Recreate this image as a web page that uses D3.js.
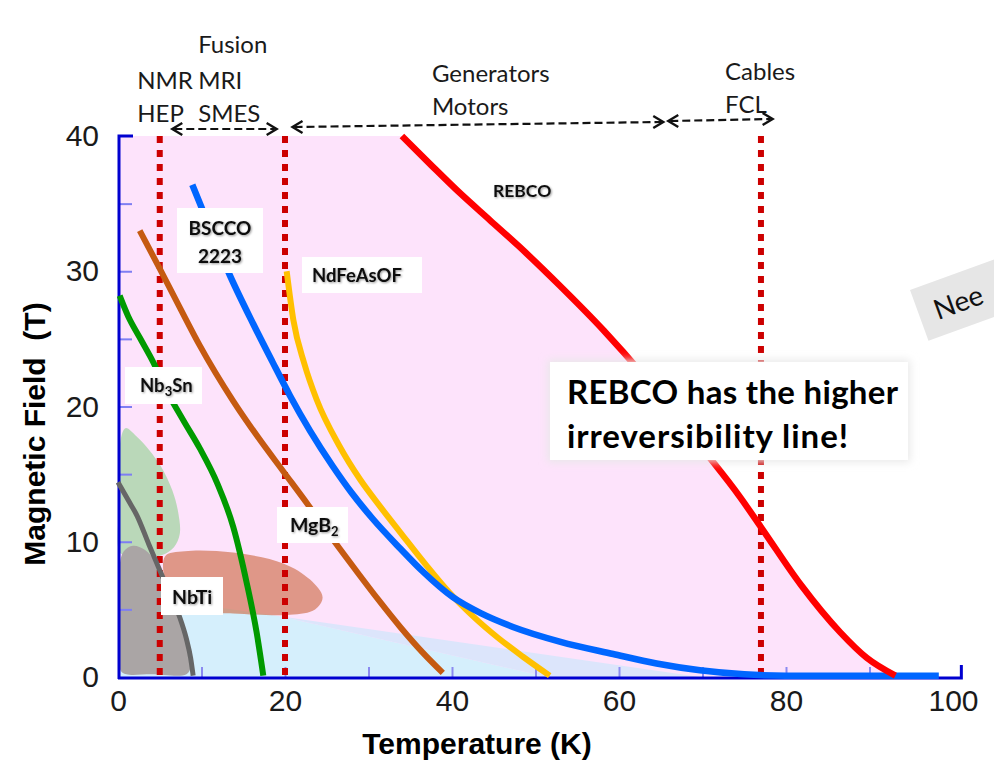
<!DOCTYPE html>
<html>
<head>
<meta charset="utf-8">
<script src="https://cdn.jsdelivr.net/npm/d3@7"></script>
<style>
  html, body { margin: 0; padding: 0; background: #fff; }
  svg { display: block; }
</style>
</head>
<body>
<svg id="chart" width="994" height="765"></svg>
<script>
// ---- Axis ticks ----
const temperatureTicks = [0, 20, 40, 60, 80, 100];
const fieldTicks = [0, 10, 20, 30, 40];
const minorTempTicks = [10, 20, 30, 40, 50, 60, 70, 80, 90];
const minorFieldTicks = [5, 10, 15, 20, 25, 30, 35];

// ---- Operating temperatures (K): liquid He, liquid H2 / cryocooler, liquid N2 ----
const coolingTemps = [5, 20, 77];

// ---- Irreversibility lines: [temperature K, field T] ----
const rebco    = [[34.0,40],[37.5,37.85],[41.0,35.75],[44.5,33.8],[48.0,31.85],[52.8,29.0],[58.2,25.6],[62.8,22.4],[66.5,19.6],[70.1,16.8],[74.5,13.3],[77.2,10.9],[81.8,6.8],[86.5,3.3],[89.7,1.4],[93.1,0.1]];
const bscco    = [[8.9,36.4],[11.2,32.9],[13.4,29.7],[16.2,26.1],[18.5,23.3],[20.6,20.8],[23.0,18.2],[25.7,15.6],[28.0,13.6],[30.5,11.7],[33.8,9.5],[36.5,7.8],[40.1,5.9],[43.5,4.7],[47.3,3.7],[53.0,2.6],[59.3,1.7],[64.5,1.0],[69.7,0.5],[75.0,0.2],[80.0,0.1],[98.3,0.1]];
const ndfeasof = [[20.2,30.0],[21.0,26.4],[22.3,23.2],[23.8,20.5],[26.5,17.1],[29.0,14.6],[31.4,12.6],[33.8,10.7],[37.0,8.2],[39.6,6.3],[42.5,4.5],[45.5,2.9],[48.5,1.5],[51.7,0.1]];
const mgb2     = [[2.6,33.0],[5.0,30.2],[7.5,27.2],[9.8,24.5],[13.8,20.4],[16.8,17.7],[19.8,15.2],[22.8,12.7],[25.7,10.2],[28.6,7.8],[31.2,5.7],[33.8,3.7],[36.5,1.8],[38.9,0.3]];
const nb3sn    = [[0.2,28.2],[1.2,26.7],[2.6,25.1],[4.2,23.3],[5.8,21.2],[7.8,19.0],[9.8,16.9],[11.9,14.3],[13.8,11.1],[15.4,7.0],[16.6,3.3],[17.4,0.1]];
const nbti     = [[0,14.4],[1.2,13.1],[2.3,11.9],[3.7,9.8],[5.0,7.9],[6.3,6.0],[7.4,4.4],[8.2,2.8],[8.7,1.4],[9.0,0.1]];

// ---- Practical operating regions (closed outlines, [K, T]) ----
const nb3snRegion = [[0.2,9.2],[0.2,13.5],[0.3,17.5],[0.9,18.4],[2.2,17.8],[3.7,16.8],[5.2,15.5],[6.5,13.8],[7.2,12.2],[7.4,10.6],[6.7,9.6],[5.2,9.0],[3.0,8.9],[1.0,9.0]];
const nbtiRegion  = [[0.3,0.5],[0.2,4.0],[0.2,8.3],[0.7,9.3],[1.8,9.7],[3.2,9.4],[4.6,8.4],[5.8,6.8],[7.2,4.6],[8.3,2.5],[8.7,0.8],[8.2,0.2],[4.0,0.2],[1.0,0.2]];
const mgb2Region  = [[5.6,8.9],[8.0,9.3],[13.8,9.2],[19.8,8.4],[23.0,7.2],[24.5,5.9],[23.6,5.0],[20.6,4.6],[13.8,4.7],[8.6,4.9],[6.2,6.2]];
const lowFieldRegion  = [[0,0],[0,6.2],[19.4,4.5],[51.4,0]];
const lowFieldFringe  = [[19.4,4.5],[69.7,0],[51.4,0]];

// ---- Application bands along the top ----
const appLabels = [
  { lines: ["NMR", "HEP"], t: 2.3 },
  { lines: ["Fusion", "MRI", "SMES"], t: 9.6 },
  { lines: ["Generators", "Motors"], t: 37.6 },
  { lines: ["Cables", "FCL"], t: 72.7 }
];
const appRanges = [[6.5, 19.0], [20.9, 65.3], [65.9, 78.4]];

const svg = d3.select("#chart");
const x = d3.scaleLinear().domain([0, 100]).range([118, 953]);
const y = d3.scaleLinear().domain([0, 40]).range([677, 136]);

const curve = d3.line().x(d => x(d[0])).y(d => y(d[1])).curve(d3.curveMonotoneX);
const blob  = d3.line().x(d => x(d[0])).y(d => y(d[1])).curve(d3.curveCatmullRomClosed.alpha(0.5));
const poly  = d3.line().x(d => x(d[0])).y(d => y(d[1]));

const defs = svg.append("defs");
const txtShadow = defs.append("filter").attr("id", "txtShadow").attr("x", "-20%").attr("y", "-30%").attr("width", "140%").attr("height", "160%");
txtShadow.append("feDropShadow").attr("dx", 1).attr("dy", 1).attr("stdDeviation", 1)
  .attr("flood-color", "#000").attr("flood-opacity", 0.4);
const boxShadow = defs.append("filter").attr("id", "boxShadow").attr("x", "-10%").attr("y", "-20%").attr("width", "120%").attr("height", "140%");
boxShadow.append("feGaussianBlur").attr("stdDeviation", 4);

// ---- Pink area below the REBCO line ----
const rebcoPath = curve(rebco);
svg.append("path")
  .attr("d", `M${x(0)},${y(40)}L` + rebcoPath.slice(1) + `L${x(0)},${y(0)}Z`)
  .attr("fill", "#fde3fb");

// ---- Low-field regions ----
svg.append("path").attr("d", poly(lowFieldRegion) + "Z").attr("fill", "#d5effc");
svg.append("path").attr("d", poly(lowFieldFringe) + "Z").attr("fill", "#dce5fb");

// ---- Conductor operating regions ----
svg.append("path").attr("d", blob(nb3snRegion)).attr("fill", "rgb(120,205,120)").attr("opacity", 0.5);
svg.append("path").attr("d", blob(nbtiRegion)).attr("fill", "#aaa5a5");
svg.append("path").attr("d", blob(mgb2Region)).attr("fill", "rgb(205,105,65)").attr("opacity", 0.62);

// ---- Minor ticks ----
const yTicks = svg.append("g").attr("transform", `translate(${x(0) + 1},0)`)
  .call(d3.axisRight(y).tickValues(minorFieldTicks).tickSize(13).tickFormat(""));
yTicks.select(".domain").remove();
yTicks.selectAll("line").attr("stroke", "#7e7ef2").attr("stroke-width", 2);

const xTicks = svg.append("g").attr("transform", `translate(0,${y(0)})`)
  .call(d3.axisTop(x).tickValues(minorTempTicks).tickSize(10).tickFormat(""));
xTicks.select(".domain").remove();
xTicks.selectAll("line").attr("stroke", "#8a8af0").attr("stroke-width", 2);

// ---- Axis lines ----
svg.append("path")
  .attr("d", `M${x(0) + 15},${y(40)}H${x(0) + 1}V${y(0) + 2}`)
  .attr("fill", "none").attr("stroke", "#0000d0").attr("stroke-width", 3);
svg.append("path")
  .attr("d", `M${x(0)},${y(0) + 1}H${x(101)}V${y(0) - 12}`)
  .attr("fill", "none").attr("stroke", "#0000d0").attr("stroke-width", 3);

// ---- Dotted operating-temperature lines ----
svg.append("g").selectAll("line").data(coolingTemps).join("line")
  .attr("x1", d => x(d)).attr("x2", d => x(d))
  .attr("y1", y(40)).attr("y2", y(0))
  .attr("stroke", "#cc0000").attr("stroke-width", 6).attr("stroke-dasharray", "7,7");

// ---- Irreversibility lines ----
const series = [
  { data: nbti, color: "#666666", w: 5 },
  { data: nb3sn, color: "#009a00", w: 6 },
  { data: mgb2, color: "#c55a11", w: 6 },
  { data: ndfeasof, color: "#ffc000", w: 6 },
  { data: bscco, color: "#0066ff", w: 6.5 },
  { data: rebco, color: "#ff0000", w: 6.5 }
];
svg.append("g").selectAll("path").data(series).join("path")
  .attr("d", d => curve(d.data))
  .attr("fill", "none").attr("stroke", d => d.color).attr("stroke-width", d => d.w);

// ---- Tick labels ----
const tickFont = "'Liberation Sans', Arial, sans-serif";
const xLab = svg.append("g").attr("transform", "translate(0,690)")
  .call(d3.axisBottom(x).tickValues(temperatureTicks).tickSize(0).tickPadding(0));
xLab.select(".domain").remove();
xLab.selectAll("text").attr("font-size", 30).attr("font-family", tickFont).attr("fill", "#1a1a1a");

const yLab = svg.append("g").attr("transform", "translate(99,0)")
  .call(d3.axisLeft(y).tickValues(fieldTicks).tickSize(0).tickPadding(0));
yLab.select(".domain").remove();
yLab.selectAll("text").attr("font-size", 30).attr("font-family", tickFont).attr("fill", "#1a1a1a");

// ---- Axis titles ----
svg.append("text").attr("x", 477).attr("y", 754).attr("text-anchor", "middle")
  .attr("font-family", tickFont).attr("font-weight", "bold").attr("font-size", 30)
  .text("Temperature (K)");
svg.append("text").attr("transform", "translate(45,434) rotate(-90)").attr("text-anchor", "middle")
  .attr("font-family", tickFont).attr("font-weight", "bold").attr("font-size", 30)
  .style("white-space", "pre")
  .text("Magnetic Field  (T)");

// ---- Application labels and range arrows ----
const labelFont = "Lato, 'Open Sans', sans-serif";
const appBaselines = [[89, 122], [53, 89, 122], [82, 115], [80, 113]];
appLabels.forEach((a, i) => {
  const t = svg.append("text").attr("font-family", labelFont).attr("font-size", 24).attr("fill", "#1a1a1a");
  a.lines.forEach((s, j) => t.append("tspan").attr("x", x(a.t)).attr("y", appBaselines[i][j]).text(s));
});
const arrowY = [[129, 129], [127, 122], [121, 119]];
appRanges.forEach((r, i) => {
  const x0 = x(r[0]), x1 = x(r[1]), y0 = arrowY[i][0], y1 = arrowY[i][1];
  svg.append("line").attr("x1", x0 + 2).attr("x2", x1 - 2).attr("y1", y0).attr("y2", y1)
    .attr("stroke", "#111").attr("stroke-width", 2.2).attr("stroke-dasharray", "8,4");
  svg.append("path").attr("d", `M${x0 + 10},${y0 - 6}L${x0},${y0}L${x0 + 10},${y0 + 6}`)
    .attr("fill", "none").attr("stroke", "#111").attr("stroke-width", 2.4);
  svg.append("path").attr("d", `M${x1 - 10},${y1 - 6}L${x1},${y1}L${x1 - 10},${y1 + 6}`)
    .attr("fill", "none").attr("stroke", "#111").attr("stroke-width", 2.4);
});

// ---- Material name labels ----
function boxLabel(bx, by, bw, bh) {
  svg.append("rect").attr("x", bx).attr("y", by).attr("width", bw).attr("height", bh).attr("fill", "#fff");
}
function labelText(tx, ty, size, anchor) {
  return svg.append("text").attr("x", tx).attr("y", ty).attr("font-family", labelFont)
    .attr("font-weight", "bold").attr("font-size", size).attr("fill", "#111")
    .attr("text-anchor", anchor || "start").attr("filter", "url(#txtShadow)");
}
labelText(493, 197, 17.5).text("REBCO");

boxLabel(177, 208, 86, 65);
const bs = labelText(220, 235, 19, "middle");
bs.append("tspan").attr("x", 220).attr("y", 235).text("BSCCO");
bs.append("tspan").attr("x", 220).attr("y", 263).text("2223");

boxLabel(302, 257, 120, 36);
labelText(312, 282, 18.5).text("NdFeAsOF");

boxLabel(125, 367, 77, 37);
const ns = labelText(140, 392, 18.5);
ns.append("tspan").text("Nb");
ns.append("tspan").attr("font-size", 13).attr("dy", 4).text("3");
ns.append("tspan").attr("dy", -4).text("Sn");

boxLabel(277, 507, 71, 36);
const mg = labelText(290, 532, 19.5);
mg.append("tspan").text("MgB");
mg.append("tspan").attr("font-size", 13).attr("dy", 4).text("2");

boxLabel(161, 577, 62, 38);
labelText(172, 604, 19.5).text("NbTi");

// ---- Callout ----
svg.append("rect").attr("x", 548).attr("y", 360).attr("width", 362).attr("height", 102)
  .attr("fill", "#e8e8e8").attr("filter", "url(#boxShadow)");
svg.append("rect").attr("x", 550).attr("y", 362).attr("width", 358).attr("height", 98).attr("fill", "#fff");
const call = svg.append("text").attr("font-family", labelFont).attr("font-weight", "bold")
  .attr("font-size", 33).attr("fill", "#000");
call.append("tspan").attr("x", 567).attr("y", 404).attr("textLength", 331).attr("lengthAdjust", "spacing").text("REBCO has the higher");
call.append("tspan").attr("x", 567).attr("y", 448).attr("textLength", 281).attr("lengthAdjust", "spacing").text("irreversibility line!");

// ---- Banner at the right edge ----
const banner = svg.append("g").attr("transform", "translate(910,290) rotate(-20)");
banner.append("rect").attr("x", 0).attr("y", 0).attr("width", 220).attr("height", 54).attr("fill", "#e6e6e6");
banner.append("text").attr("x", 16).attr("y", 38).attr("font-family", labelFont)
  .attr("font-size", 28).attr("fill", "#111").text("Nee");
</script>
</body>
</html>
